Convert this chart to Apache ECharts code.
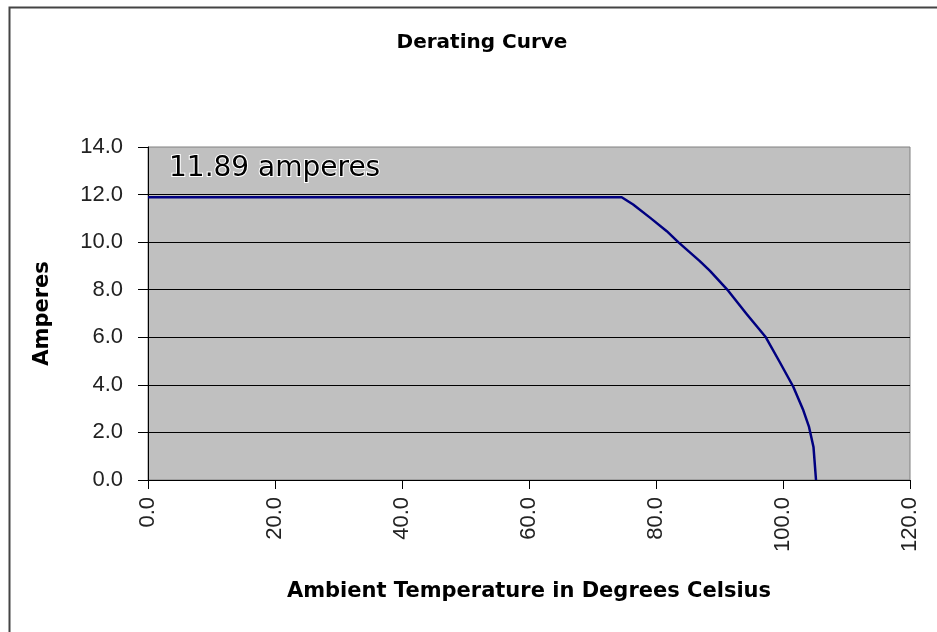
<!DOCTYPE html>
<html>
<head>
<meta charset="utf-8">
<script src="https://cdn.jsdelivr.net/npm/echarts@6/dist/echarts.min.js"></script>
<style>html,body{margin:0;padding:0;background:#fff}#c{width:937px;height:632px}</style>
</head>
<body>
<div id="c"></div>
<script>
const temperatures = [0, 74.6, 76.4, 79.1, 81.7, 83.5, 86.9, 88.5, 91.4, 94.3, 97.3, 99.5, 101.6, 103.2, 104.1, 104.8, 105.2];
const amperes = [11.89, 11.89, 11.58, 11.02, 10.46, 10.0, 9.2, 8.79, 7.95, 6.97, 6.0, 4.95, 3.93, 2.93, 2.23, 1.39, 0];
const annotationText = '11.89 amperes';
const titleText = 'Derating Curve';
const xName = 'Ambient Temperature in Degrees Celsius';
const yName = 'Amperes';

const chart = echarts.init(document.getElementById('c'), null, {renderer: 'canvas'});
const tickFont = {fontFamily: 'Liberation Sans', fontSize: 22, color: '#222'};
chart.setOption({
  animation: false,
  backgroundColor: '#fff',
  title: {
    text: titleText, left: 477, top: 28, textAlign: 'center',
    textStyle: {fontFamily: 'DejaVu Sans', fontWeight: 'bold', fontSize: 20, color: '#000'}
  },
  grid: {
    left: 148, right: 27, top: 147, bottom: 152,
    show: true, backgroundColor: '#c0c0c0', borderColor: '#808080', borderWidth: 1
  },
  xAxis: {
    type: 'value', min: 0, max: 120, interval: 20,
    name: xName, nameLocation: 'middle', nameGap: 101,
    nameTextStyle: {fontFamily: 'DejaVu Sans', fontWeight: 'bold', fontSize: 21, color: '#000'},
    axisLine: {show: true, lineStyle: {color: '#000', width: 1}},
    axisTick: {show: true, length: 9, lineStyle: {color: '#000'}},
    axisLabel: Object.assign({rotate: 90, margin: 17, formatter: v => v.toFixed(1)}, tickFont),
    splitLine: {show: false}
  },
  yAxis: {
    type: 'value', min: 0, max: 14, interval: 2,
    name: yName, nameLocation: 'middle', nameGap: 95,
    nameTextStyle: {fontFamily: 'DejaVu Sans', fontWeight: 'bold', fontSize: 21, color: '#000'},
    axisLine: {show: true, lineStyle: {color: '#000', width: 1}},
    axisTick: {show: true, length: 10, lineStyle: {color: '#000'}},
    axisLabel: Object.assign({margin: 25, formatter: v => v.toFixed(1)}, tickFont),
    splitLine: {show: true, showMaxLine: false, showMinLine: false, lineStyle: {color: '#000', width: 1}}
  },
  series: [{
    type: 'line',
    data: temperatures.map((t, i) => [t, amperes[i]]),
    showSymbol: false,
    smooth: false,
    lineStyle: {color: '#000080', width: 2.5, join: 'round'}
  }],
  graphic: [
    {type: 'rect', left: 7, top: 5, shape: {x: 0, y: 0, width: 1000, height: 1000},
     style: {fill: 'none', stroke: '#444', lineWidth: 2}, silent: true},
    {type: 'text', left: 168, top: 154,
     style: {text: annotationText, fontFamily: 'DejaVu Sans', fontSize: 28, fill: '#000', stroke: '#fff', lineWidth: 2}}
  ]
});
</script>
</body>
</html>
